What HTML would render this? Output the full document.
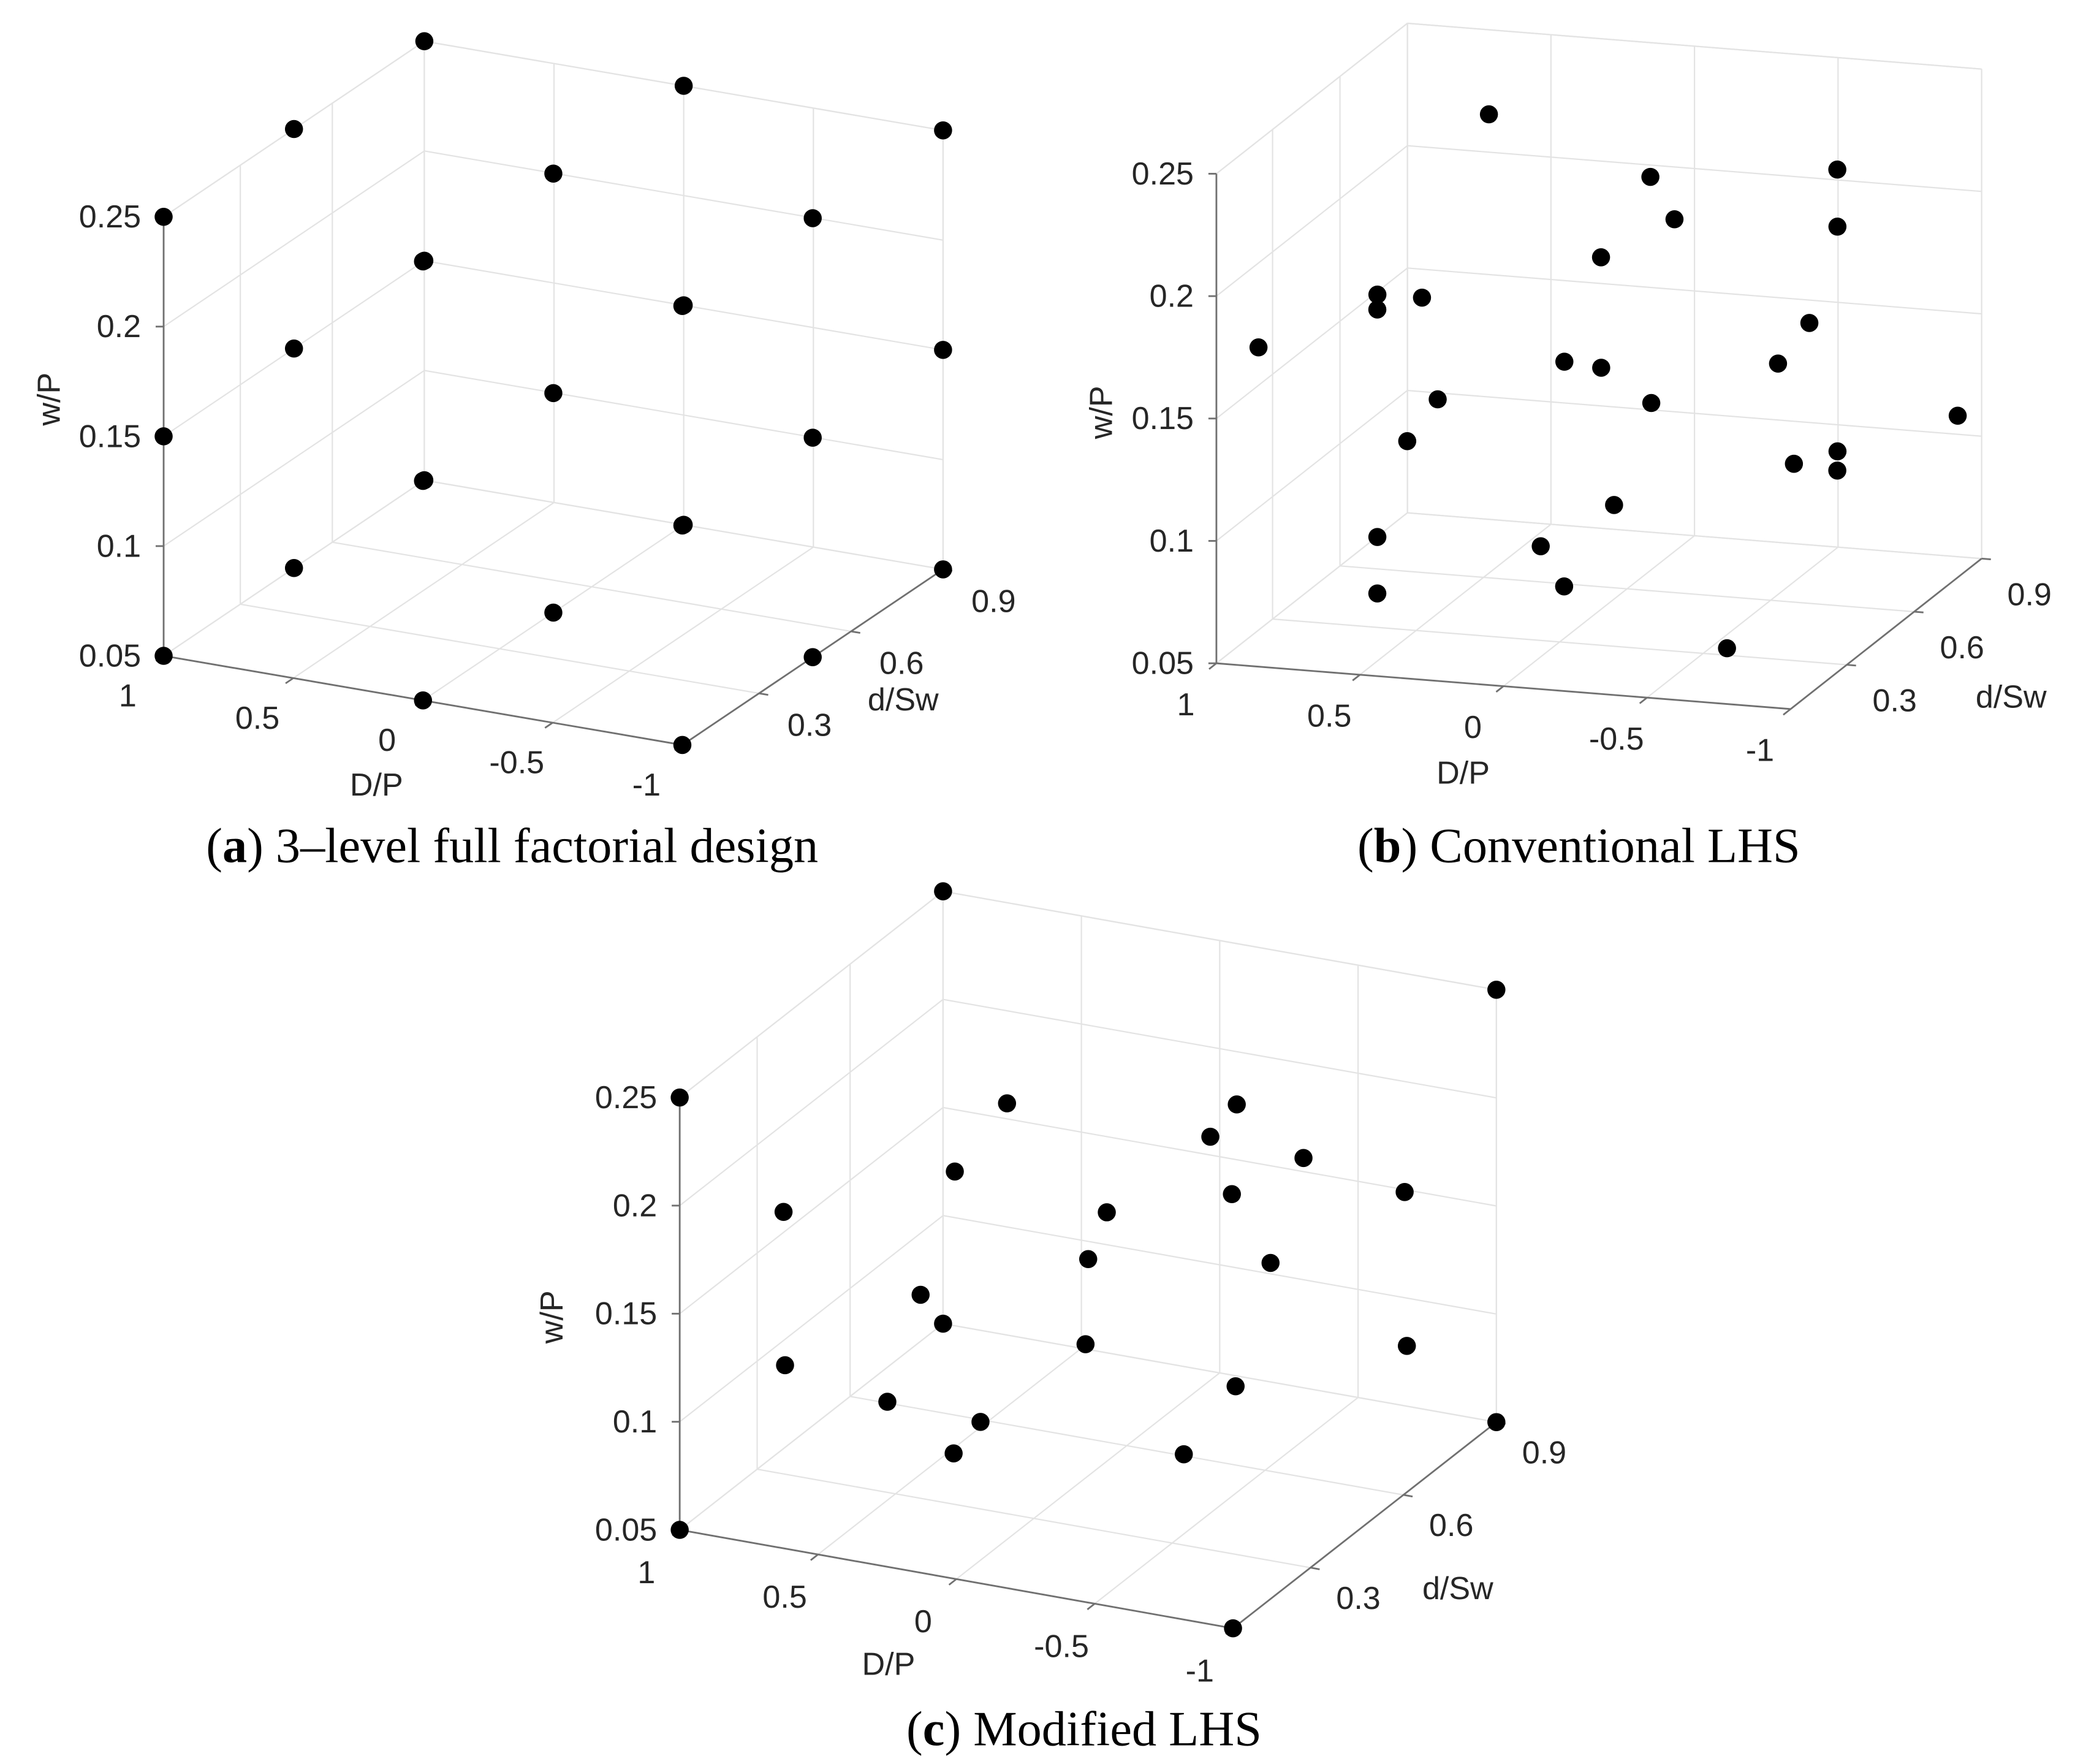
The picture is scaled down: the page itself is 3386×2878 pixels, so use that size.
<!DOCTYPE html>
<html><head><meta charset="utf-8"><style>
html,body{margin:0;padding:0;background:#fff;}
svg{display:block;}
.tk{font-family:"Liberation Sans",sans-serif;font-size:24px;fill:#262626;}
.cap{font-family:"Liberation Serif",serif;font-size:37px;fill:#000;}
</style></head><body>
<svg id="fig" xmlns="http://www.w3.org/2000/svg" width="3386" height="2878" viewBox="0 0 1560 1326">
<text class="cap" x="385" y="648" text-anchor="middle">(<tspan font-weight="bold">a</tspan>) 3–level full factorial design</text>
<text class="cap" x="1187" y="648" text-anchor="middle">(<tspan font-weight="bold">b</tspan>) Conventional LHS</text>
<text class="cap" x="815" y="1312" text-anchor="middle">(<tspan font-weight="bold">c</tspan>) Modified LHS</text>
</svg>
<script>
// Axis ticks
const dTicks = [1, 0.5, 0, -0.5, -1];
const sTicks = [0.3, 0.6, 0.9];
const wTicks = [0.05, 0.1, 0.15, 0.2, 0.25];
const dLabels = ["1", "0.5", "0", "-0.5", "-1"];
const sLabels = ["0.3", "0.6", "0.9"];
const wLabels = ["0.05", "0.1", "0.15", "0.2", "0.25"];
// Panel (a): full factorial levels
const levelsD = [1, 0, -1];
const levelsS = [0.05, 0.475, 0.9];
const levelsW = [0.05, 0.15, 0.25];
// Panel (b): conventional LHS
const bD = [0.583,-0.179,-0.564,-0.396,-0.764,0.126,0.998,0.55,0.506,0.887,-0.433,-0.079,0.026,-0.723,0.662,-0.215,-0.97,0.502,-0.664,-0.812,-0.996,0.014,0.772,0.336,0.022,0.506,-0.712];
const bS = [0.73,0.475,0.815,0.305,0.56,0.645,0.764,0.39,0.135,0.093,0.858,0.22,0.518,0.348,0.603,0.433,0.832,0.263,0.688,0.305,0.263,0.56,0.475,0.645,0.348,0.135,0.135];
const bW = [0.229,0.229,0.211,0.226,0.208,0.181,0.149,0.179,0.193,0.177,0.144,0.171,0.146,0.167,0.121,0.140,0.113,0.130,0.106,0.130,0.132,0.087,0.073,0.061,0.069,0.077,0.066];
// Panel (c): modified LHS
const cD = [1,-1,1,0.388,-0.252,-0.442,-0.398,0.196,-0.954,0.768,-0.21,-0.567,0.238,-0.85,0.939,1,1,0.438,-0.962,0.488,-0.39,0.008,-1,0.058,-0.298,1,-1];
const cS = [0.9,0.9,0.05,0.56,0.73,0.475,0.815,0.22,0.645,0.178,0.348,0.433,0.688,0.305,0.773,0.9,0.39,0.858,0.645,0.263,0.603,0.135,0.9,0.093,0.518,0.05,0.05];
const cW = [0.25,0.25,0.25,0.204,0.199,0.217,0.168,0.215,0.184,0.188,0.191,0.198,0.121,0.187,0.079,0.05,0.088,0.058,0.113,0.097,0.086,0.113,0.05,0.102,0.062,0.05,0.05];

const NS = "http://www.w3.org/2000/svg";
const svg = document.getElementById('fig');
function mk(tag, attrs, parent){const e=document.createElementNS(NS,tag);for(const k in attrs)e.setAttribute(k,attrs[k]);(parent||svg).appendChild(e);return e;}

function panel(cfg, D, S, W, key){
  const g = mk('g',{});
  
  
  const P = (dv, sv, wv) => {
    const a = (1 - dv) / 2, f = (sv - 0.05) / 0.85, h = (wv - 0.05) / 0.05;
    return [cfg.O[0] + a*cfg.Dv[0] + f*cfg.Sv[0], cfg.O[1] + a*cfg.Dv[1] + f*cfg.Sv[1] + h*cfg.Wv];
  };
  const line = (p, q, col, w, name) => {
    const l = mk('line',{x1:p[0],y1:p[1],x2:q[0],y2:q[1],stroke:col,'stroke-width':w},g);
    
    
  };
  const gc = '#e3e3e3';
  dTicks.forEach(t => { line(P(t,0.05,0.05), P(t,0.9,0.05), gc, 1, 'grid-floor-d'); line(P(t,0.9,0.05), P(t,0.9,0.25), gc, 1, 'grid-back-d'); });
  sTicks.forEach(t => { line(P(1,t,0.05), P(-1,t,0.05), gc, 1, 'grid-floor-s'); line(P(1,t,0.05), P(1,t,0.25), gc, 1, 'grid-left-s'); });
  wTicks.forEach(t => { line(P(1,0.05,t), P(1,0.9,t), gc, 1, 'grid-left-w'); line(P(1,0.9,t), P(-1,0.9,t), gc, 1, 'grid-back-w'); });
  line(P(1,0.9,0.05), P(1,0.9,0.25), gc, 1, 'grid-corner');
  line(P(1,0.05,0.25), P(1,0.9,0.25), gc, 1, 'box-top-left');
  line(P(1,0.9,0.25), P(-1,0.9,0.25), gc, 1, 'box-top-back');
  line(P(-1,0.9,0.05), P(-1,0.9,0.25), gc, 1, 'box-right-back');
  const ac = '#707070';
  line(P(1,0.05,0.05), P(1,0.05,0.25), ac, 1.3, 'w-axis');
  line(P(1,0.05,0.05), P(-1,0.05,0.05), ac, 1.3, 'd-axis');
  line(P(-1,0.05,0.05), P(-1,0.9,0.05), ac, 1.3, 's-axis');
  const sl = Math.hypot(cfg.Sv[0],cfg.Sv[1]), dl = Math.hypot(cfg.Dv[0],cfg.Dv[1]);
  dTicks.forEach((t,i) => {
    const p = P(t,0.05,0.05);
    line(p, [p[0]-cfg.Sv[0]/sl*7, p[1]-cfg.Sv[1]/sl*7], ac, 1.3, 'd-tick');
    const tx = mk('text',{x:p[0]+cfg.dOff[0],y:p[1]+cfg.dOff[1]+8,'text-anchor':'middle','class':'tk'},g);
    tx.textContent = dLabels[i];
    
    
  });
  sTicks.forEach((t,i) => {
    const p = P(-1,t,0.05);
    line(p, [p[0]+cfg.Dv[0]/dl*7, p[1]+cfg.Dv[1]/dl*7], ac, 1.3, 's-tick');
    const tx = mk('text',{x:p[0]+cfg.sOff[0],y:p[1]+cfg.sOff[1]+8,'text-anchor':'middle','class':'tk'},g);
    tx.textContent = sLabels[i];
    
    
  });
  wTicks.forEach((t,i) => {
    const p = P(1,0.05,t);
    line(p, [p[0]-6, p[1]], ac, 1.3, 'w-tick');
    const tx = mk('text',{x:p[0]-17,y:p[1]+8,'text-anchor':'end','class':'tk'},g);
    tx.textContent = wLabels[i];
    
    
  });
  const t1 = mk('text',{x:cfg.dT[0],y:cfg.dT[1],'text-anchor':'middle','class':'tk'},g);
  t1.textContent = 'D/P';
  
  
  const t2 = mk('text',{x:cfg.sT[0],y:cfg.sT[1],'text-anchor':'middle','class':'tk'},g);
  t2.textContent = 'd/Sw';
  
  
  const t3 = mk('text',{x:cfg.wT[0],y:cfg.wT[1],'text-anchor':'middle','class':'tk',transform:'rotate(-90 '+cfg.wT[0]+' '+cfg.wT[1]+')'},g);
  t3.textContent = 'w/P';
  
  
  for (let i = 0; i < D.length; i++) {
    const p = P(D[i], S[i], W[i]);
    const c = mk('circle',{cx:p[0],cy:p[1],r:6.8,fill:'#000'},g);
    
    
  }
}

const aD=[], aS=[], aW=[];
levelsD.forEach(x => levelsS.forEach(y => levelsW.forEach(z => { aD.push(x); aS.push(y); aW.push(z); })));

panel({O:[123,493],Dv:[390,67],Sv:[196,-132],Wv:-82.5,dOff:[-27,30],sOff:[38,24],dT:[283,598],sT:[679,534],wT:[45,300]}, aD, aS, aW, 'a');
panel({O:[914.5,498.6],Dv:[431.7,34.4],Sv:[143.6,-113.1],Wv:-92.0,dOff:[-23,31],sOff:[36,27],dT:[1100,589],sT:[1512,532],wT:[836,310]}, bD, bS, bW, 'b');
panel({O:[511,1150],Dv:[416,74],Sv:[198,-155],Wv:-81.25,dOff:[-25,32],sOff:[36,23],dT:[668,1259],sT:[1096,1202],wT:[423,990]}, cD, cS, cW, 'c');
</script>
</body></html>
